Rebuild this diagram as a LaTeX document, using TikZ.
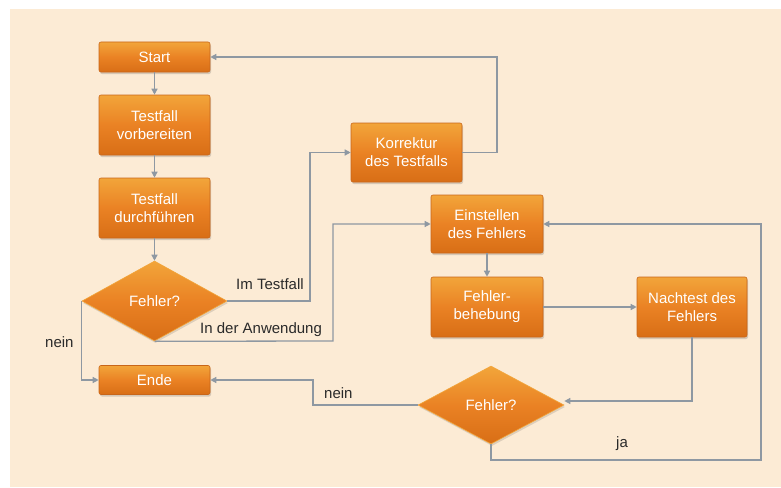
\documentclass[tikz,border=0pt]{standalone}
\usepackage{fontspec}
\setmainfont{Liberation Sans}
\usetikzlibrary{shapes.geometric,arrows.meta,shadows}
\definecolor{bg}{HTML}{FCEBD5}
\definecolor{arr}{HTML}{8E98A2}
\definecolor{boxtop}{HTML}{F2A53A}
\definecolor{boxmid}{HTML}{EA8224}
\definecolor{boxbot}{HTML}{D86E16}
\definecolor{boxedge}{HTML}{C8661A}
\definecolor{lbl}{HTML}{2A2A2A}
\tikzset{
  stepbox/.style={rectangle, rounded corners=2pt, minimum width=111pt, align=center,
    top color=boxtop, bottom color=boxbot, middle color=boxmid, draw=boxedge, line width=0.6pt,
    text=white, font=\fontsize{15}{18}\selectfont,
    drop shadow={shadow xshift=1pt, shadow yshift=-2pt, fill=black, opacity=0.15}},
  decision/.style={diamond, aspect=1.8, inner sep=0pt, align=center,
    top color=boxtop, bottom color=boxbot, middle color=boxmid, draw=boxtop, line width=0.6pt,
    text=white, font=\fontsize{15}{18}\selectfont,
    drop shadow={shadow xshift=1pt, shadow yshift=-2pt, fill=black, opacity=0.12}},
  conn/.style={draw=arr, line width=1.3pt, -{Triangle[length=6pt,width=6pt]}},
  lab/.style={text=lbl, font=\fontsize{15}{18}\selectfont, inner sep=0pt}
}
\begin{document}
\begin{tikzpicture}[x=1pt,y=-1pt]
\useasboundingbox (0,0) rectangle (781,487);
\fill[bg] (10,9) rectangle (781,487);

\node[stepbox, minimum height=30pt] (start) at (154.5,57) {Start};
\node[stepbox, minimum height=60pt] (prep) at (154.5,125) {Testfall\\vorbereiten};
\node[stepbox, minimum height=60pt] (exec) at (154.5,208) {Testfall\\durchführen};
\node[decision, minimum width=145pt, minimum height=80pt] (d1) at (154.5,301) {Fehler?};
\node[stepbox, minimum height=29pt] (ende) at (154.5,380) {Ende};
\node[stepbox, minimum height=59pt] (korr) at (406.5,152.5) {Korrektur\\des Testfalls};
\node[stepbox, minimum height=58pt, minimum width=112pt] (einst) at (487,224) {Einstellen\\des Fehlers};
\node[stepbox, minimum height=60pt, minimum width=112pt] (beh) at (487,307) {Fehler-\\behebung};
\node[stepbox, minimum height=60pt, minimum width=110pt] (nach) at (692,307) {Nachtest des\\Fehlers};
\node[decision, minimum width=146pt, minimum height=78pt] (d2) at (491,405) {Fehler?};

\coordinate (c1) at (310,301);
\coordinate (c2) at (333,341);
\coordinate (c4) at (497,57);
\coordinate (c5) at (692,401);
\coordinate (c6) at (313,405);
\coordinate (c7) at (761,460);

\draw[conn] (start) -- (prep);
\draw[conn] (prep) -- (exec);
\draw[conn] (exec) -- (d1);
\draw[conn] (d1.east) -- (c1) |- (korr.west);
\draw[conn] (d1.south) -- (c2) |- (einst.west);
\draw[conn] (d1.west) |- (ende.west);
\draw[conn] (korr.east) -| (c4) -- (start.east);
\draw[conn] (einst) -- (beh);
\draw[conn] (beh) -- (nach);
\draw[conn] (nach.south) -- (c5) -- (d2.east |- c5);
\draw[conn] (d2.west) -- (c6) |- (ende.east);
\draw[conn] (d2.south) |- (c7) |- (einst.east);

\node[lab, anchor=base west] (l1) at (236,289) {Im Testfall};
\node[lab, anchor=base west] (l2) at (200,333) {In der Anwendung};
\node[lab, anchor=base west] (l3) at (45,347) {nein};
\node[lab, anchor=base west] (l4) at (324,398) {nein};
\node[lab, anchor=base west] (l5) at (616,447) {ja};
\end{tikzpicture}
\end{document}
